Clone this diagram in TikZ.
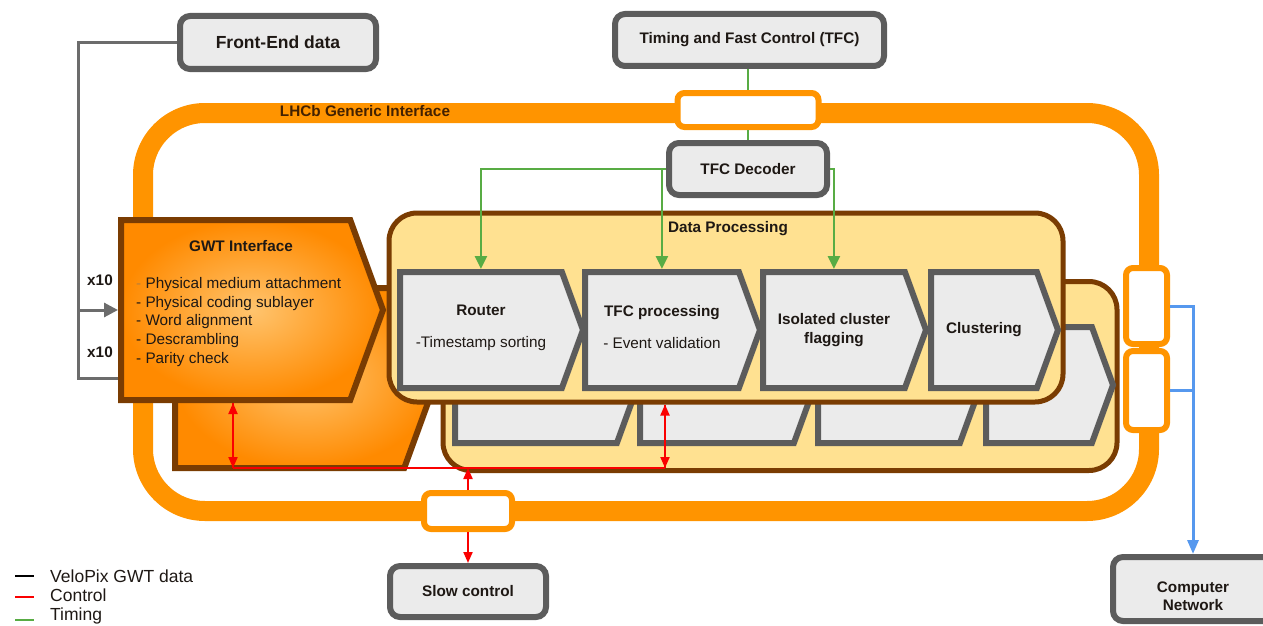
\documentclass[tikz,border=0pt]{standalone}
\usepackage{fontspec}
\setmainfont{Liberation Sans}
\usetikzlibrary{shapes, arrows.meta, positioning, calc}
\definecolor{ringorange}{RGB}{255, 148, 0}
\definecolor{gwtbrown}{RGB}{122, 60, 2}
\definecolor{dpyellow}{RGB}{255, 225, 145}
\definecolor{boxgray}{RGB}{92, 92, 92}
\definecolor{boxfill}{RGB}{235, 235, 235}
\definecolor{tfcgreen}{RGB}{88, 172, 68}
\definecolor{ctrlred}{RGB}{250, 0, 0}
\definecolor{netblue}{RGB}{86, 152, 238}
\definecolor{gwtlight}{RGB}{255, 196, 110}
\definecolor{gwtdark}{RGB}{255, 138, 0}
\definecolor{textdark}{RGB}{30, 24, 20}

\begin{document}
\begin{tikzpicture}[x=1pt, y=-1pt, text=textdark,
  font=\fontsize{15.3}{18.8}\selectfont,
  extbox/.style={draw=boxgray, fill=boxfill, line width=6pt, rounded corners=10pt, inner sep=0pt, align=center, font=\fontsize{15.3}{18}\selectfont\bfseries},
  port/.style={draw=ringorange, fill=white, line width=6pt, rounded corners=7pt, inner sep=0pt},
  stage/.style={shape=signal, signal to=east, signal from=nowhere, signal pointer angle=140, draw=boxgray, fill=boxfill, line width=6pt, inner sep=0pt, minimum height=116pt, align=center, anchor=west},
  gwtshape/.style={shape=signal, signal to=east, signal from=nowhere, signal pointer angle=140, draw=gwtbrown, line width=6pt, inner sep=0pt, minimum width=262pt, minimum height=180pt, inner color=gwtlight, outer color=gwtdark, anchor=west},
  dpbox/.style={draw=gwtbrown, fill=dpyellow, line width=5pt, rounded corners=28pt, inner sep=0pt, minimum width=674pt, minimum height=189pt},
  timing/.style={draw=tfcgreen, line width=2.5pt},
  tipt/.style={-{Triangle[length=13pt, width=12pt]}},
  ctrl/.style={draw=ctrlred, line width=2pt},
  tipc/.style={-{Triangle[length=11pt, width=9pt]}},
  feline/.style={draw=boxgray!90, line width=3pt},
  netline/.style={draw=netblue, line width=3pt},
  legtext/.style={anchor=west, inner sep=0pt, font=\fontsize{17.5}{20}\selectfont}
]
\useasboundingbox (0,0) rectangle (1263,626);

% generic interface ring
\node[draw=ringorange, line width=20pt, rounded corners=62pt, minimum width=1006pt, minimum height=398pt] (lhcb) at (646,312) {};
\node[font=\fontsize{15.3}{18}\selectfont\bfseries, text=gwtbrown!55!black] (lhcblabel) at (365,111) {LHCb Generic Interface};

% GWT interface
\node[gwtshape] (gwtback) at (172,378) {};
\node[gwtshape] (gwt) at (118,310) {};
\node[font=\fontsize{15.3}{18}\selectfont\bfseries] (gwttitle) at (241,246) {GWT Interface};
\node[anchor=north west, inner sep=0pt, align=left] (gwtlist) at (136,277)
  {{\color{gwtbrown!50!gwtlight}-} Physical medium attachment\\- Physical coding sublayer\\- Word alignment\\- Descrambling\\- Parity check};

% data processing
\node[dpbox] (dpback) at (780,376) {};
\node[stage, minimum width=183pt] (routerback) at (452,385) {};
\node[stage, minimum width=175pt] (tfcpback) at (637,385) {};
\node[stage, minimum width=163pt] (isoback) at (815,385) {};
\node[stage, minimum width=127pt] (clusback) at (983,385) {};
\node[dpbox] (dp) at (726,307.5) {};
\node[font=\fontsize{15.3}{18}\selectfont\bfseries] (dplabel) at (728,229) {Data Processing};
\node[stage, minimum width=183pt] (router) at (397,330) {\textbf{Router}\\[13pt]-Timestamp sorting\\[-12pt]};
\node[stage, minimum width=175pt] (tfcp) at (582,330) {\textbf{TFC processing}\\[13pt]- Event validation\\[-12pt]};
\node[stage, minimum width=163pt] (iso) at (760,330) {\textbf{Isolated cluster}\\\textbf{flagging}};
\node[stage, minimum width=127pt] (clus) at (928,330) {\textbf{Clustering}};

% outside boxes
\node[extbox, minimum width=196pt, minimum height=53pt, font=\fontsize{17.5}{20}\selectfont\bfseries] (fe) at (278,42.5) {Front-End data};
\node[extbox, minimum width=269pt, minimum height=52pt] (tfc) at (749.5,40) {Timing and Fast Control (TFC)};
\node[extbox, minimum width=158pt, minimum height=52pt] (dec) at (748,169) {TFC Decoder};
\node[extbox, minimum width=156pt, minimum height=51pt] (slow) at (468,591.5) {Slow control};
\node[extbox, minimum width=160pt, minimum height=64pt] (net) at (1193,589) {};
\node[align=center, font=\fontsize{15.3}{18}\selectfont\bfseries] (netlabel) at (1193,596) {Computer\\Network};

% ports
\node[port, minimum width=141pt, minimum height=34pt] (tport) at (748,110) {};
\node[port, minimum width=88pt, minimum height=36pt] (bport) at (468,511) {};
\node[port, minimum width=41pt, minimum height=76pt] (rport1) at (1146.5,306) {};
\node[port, minimum width=41pt, minimum height=79pt] (rport2) at (1146.5,390.5) {};

% front-end data
\coordinate (fecorner) at (fe.west -| 78,0);
\coordinate (febottom) at (78,378);
\coordinate (fesplit) at (78,310);
\draw[feline] (fe.west) -- (fecorner) -- (febottom) -- (febottom -| gwt.west);
\draw[feline, -{Triangle[length=14pt, width=14pt]}] (fesplit) -- (gwt.west);
\node[font=\fontsize{15.3}{18}\selectfont\bfseries] (xtenA) at (100,280) {x10};
\node[font=\fontsize{15.3}{18}\selectfont\bfseries] (xtenB) at (100,352) {x10};

% timing
\draw[timing] (tport.north |- tfc.south) -- (tport.north);
\draw[timing] (tport.south) -- (dec.north);
\coordinate (tsplit) at (tfcp.north |- dec.west);
\draw[timing, tipt] (dec.west) -| (router.north);
\draw[timing, tipt] (tsplit) -- (tfcp.north);
\draw[timing, tipt] (dec.east) -| (iso.north);

% control
\coordinate (ctlA) at (233,468);
\coordinate (ctlB) at (665,468);
\draw[ctrl] (ctlA) -- (ctlB);
\draw[ctrl, tipc] (ctlA) -- (ctlA |- gwt.south);
\draw[ctrl, tipc] (ctlA |- gwt.south) -- (ctlA);
\draw[ctrl, tipc] (ctlB) -- (ctlB |- dp.south);
\draw[ctrl, tipc] (ctlB |- dp.south) -- (ctlB);
\draw[ctrl, tipc] (bport.north) -- (bport.north |- ctlA);
\draw[ctrl, tipc] (bport.south) -- (slow.north);

% network
\draw[netline] (rport2.east) -- (rport2.east -| net.north);
\draw[netline, -{Triangle[length=14pt, width=11pt]}] (rport1.east) -| (net.north);

% legend
\node[legtext] (legdata) at (50,576) {VeloPix GWT data};
\node[legtext] (legctrl) at (50,595) {Control};
\node[legtext] (legtime) at (50,616) {Timing};
\draw[black, line width=1.5pt] ([xshift=-35pt]legdata.west) -- ([xshift=-16pt]legdata.west);
\draw[ctrlred, line width=1.5pt] ([xshift=-35pt, yshift=-2pt]legctrl.west) -- ([xshift=-16pt, yshift=-2pt]legctrl.west);
\draw[tfcgreen, line width=1.5pt] ([xshift=-35pt, yshift=-4pt]legtime.west) -- ([xshift=-16pt, yshift=-4pt]legtime.west);
\end{tikzpicture}
\end{document}
